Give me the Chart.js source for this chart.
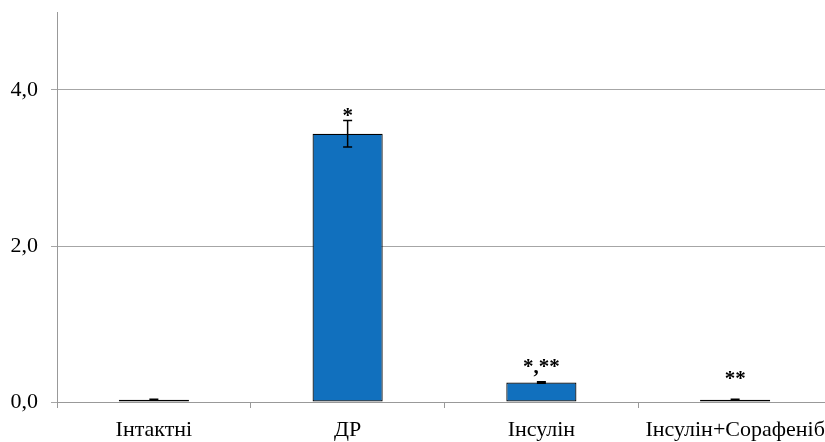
<!DOCTYPE html>
<html>
<head>
<meta charset="utf-8">
<script src="https://cdn.jsdelivr.net/npm/chart.js@4/dist/chart.umd.min.js"></script>
<style>
html,body{margin:0;padding:0;background:#fff;overflow:hidden;}
#wrap{width:832px;height:442px;position:relative;}
</style>
</head>
<body>
<div id="wrap"><canvas id="c" width="832" height="442"></canvas></div>
<script>
const categories = ['Інтактні', 'ДР', 'Інсулін', 'Інсулін+Сорафеніб'];
const values = [0.03, 3.44, 0.25, 0.03];
const errors = [0.005, 0.17, 0.01, 0.005];
const marks = ['', '*', '*,**', '**'];
const yTicks = [0, 2, 4];

const FONT = '"Liberation Serif", "Times New Roman", serif';
// pixel offsets of significance marks relative to top of the error bar (style only)
const markOffsets = [0, 1.5, -8.5, -14];

const annotatePlugin = {
  id: 'annot',
  afterDatasetsDraw(chart) {
    const ctx = chart.ctx;
    const meta = chart.getDatasetMeta(0);
    const y = chart.scales.y;
    ctx.save();
    meta.data.forEach((bar, i) => {
      const x = bar.x;
      const top = y.getPixelForValue(values[i] + errors[i]);
      const bot = y.getPixelForValue(values[i] - errors[i]);
      ctx.strokeStyle = '#000';
      ctx.lineWidth = 1.5;
      ctx.beginPath();
      ctx.moveTo(x, top); ctx.lineTo(x, bot);
      ctx.moveTo(x - 4.5, top); ctx.lineTo(x + 4.5, top);
      ctx.moveTo(x - 4.5, bot); ctx.lineTo(x + 4.5, bot);
      ctx.stroke();
      if (marks[i]) {
        ctx.fillStyle = '#000';
        ctx.font = 'bold 21px ' + FONT;
        ctx.textAlign = 'center';
        ctx.textBaseline = 'alphabetic';
        ctx.fillText(marks[i], x, top + markOffsets[i]);
      }
    });
    ctx.restore();
  }
};

new Chart(document.getElementById('c'), {
  type: 'bar',
  data: {
    labels: categories,
    datasets: [{
      data: values,
      backgroundColor: '#1170BE',
      borderColor: '#000',
      borderWidth: 1.2,
      borderSkipped: false,
      barPercentage: 0.362,
      categoryPercentage: 1
    }]
  },
  options: {
    responsive: false,
    animation: false,
    events: [],
    layout: { padding: { top: 12, left: 0, right: 0, bottom: 0 } },
    plugins: { legend: { display: false }, tooltip: { enabled: false } },
    scales: {
      x: {
        afterFit: (s) => { s.height = 40; s.paddingLeft = 0; s.paddingRight = 0; },
        grid: { drawOnChartArea: false, drawTicks: true, tickLength: 6, color: '#999', offset: true },
        border: { display: true, color: '#999', width: 1 },
        ticks: { color: '#000', font: { family: FONT, size: 22 }, padding: 9, maxRotation: 0, autoSkip: false }
      },
      y: {
        min: 0, max: 5,
        afterBuildTicks: (axis) => { axis.ticks = yTicks.map(v => ({ value: v })); },
        afterFit: (s) => { s.width = 57; s.paddingTop = 0; s.paddingBottom = 0; },
        grid: { color: '#a6a6a6', tickLength: 6, lineWidth: 1 },
        border: { display: true, color: '#999', width: 1 },
        ticks: {
          color: '#000', font: { family: FONT, size: 22 }, padding: 13,
          callback: (v) => v.toFixed(1).replace('.', ',')
        }
      }
    }
  },
  plugins: [annotatePlugin]
});
</script>
</body>
</html>
